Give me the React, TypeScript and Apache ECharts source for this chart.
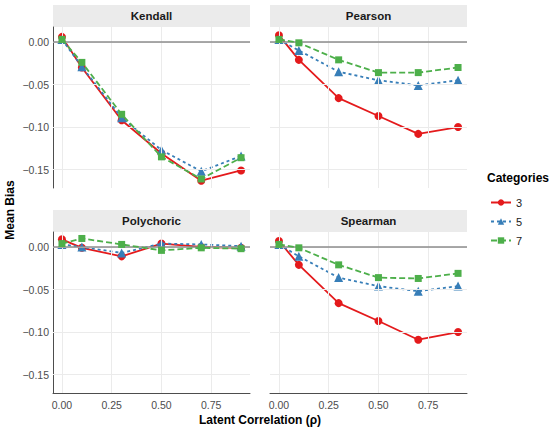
import React, { useEffect, useRef } from "react";
import * as echarts from "echarts";

const rho = [0, 0.1, 0.3, 0.5, 0.7, 0.9];
const categories = ["3", "5", "7"];
const methods = ["Kendall", "Pearson", "Polychoric", "Spearman"];

const kendall3 = [0.006, -0.030, -0.092, -0.131, -0.163, -0.151];
const kendall5 = [0.003, -0.029, -0.089, -0.127, -0.152, -0.134];
const kendall7 = [0.003, -0.024, -0.085, -0.135, -0.161, -0.136];
const pearson3 = [0.008, -0.021, -0.066, -0.087, -0.108, -0.100];
const pearson5 = [0.003, -0.010, -0.035, -0.045, -0.051, -0.045];
const pearson7 = [0.003, -0.001, -0.021, -0.036, -0.036, -0.030];
const poly3 = [0.009, -0.001, -0.011, 0.004, 0.000, -0.001];
const poly5 = [0.003, 0.000, -0.007, 0.004, 0.003, 0.001];
const poly7 = [0.004, 0.010, 0.003, -0.004, -0.001, -0.002];
const spear3 = [0.007, -0.021, -0.066, -0.087, -0.109, -0.100];
const spear5 = [0.003, -0.011, -0.036, -0.046, -0.052, -0.046];
const spear7 = [0.003, -0.001, -0.021, -0.036, -0.037, -0.031];

const yTicks = [-0.15, -0.1, -0.05, 0];
const xTicks = [0, 0.25, 0.5, 0.75];

const FONT = "Liberation Sans";
const colors = ["#E41A1C", "#377EB8", "#4DAF4A"];
const symbols = ["circle", "triangle", "rect"];
const symbolSizes = [8, 9, 7];
const dashes: any[] = ["solid", [3, 3], [6, 3]];

const panelData = [
  [kendall3, kendall5, kendall7],
  [pearson3, pearson5, pearson7],
  [poly3, poly5, poly7],
  [spear3, spear5, spear7],
];

const layout = [
  { left: 53, top: 27, showY: true, showX: false },
  { left: 270, top: 27, showY: false, showX: false },
  { left: 53, top: 232, showY: true, showX: true },
  { left: 270, top: 232, showY: false, showX: true },
];
const PW = 197;
const PH = 161;
const STRIP = 22;

const fmt = (v: number) => v.toFixed(2).replace("-", "\u2212");

export default function App() {
  const ref = useRef<HTMLDivElement>(null);
  useEffect(() => {
    document.body.style.margin = "0";
    const chart = echarts.init(ref.current!, undefined, { renderer: "svg" });
    const grids: any[] = [];
    const xAxes: any[] = [];
    const yAxes: any[] = [];
    const series: any[] = [];
    const graphics: any[] = [];

    layout.forEach((p, i) => {
      grids.push({ left: p.left, top: p.top, width: PW, height: PH, containLabel: false });
      xAxes.push({
        type: "value",
        gridIndex: i,
        min: -0.045,
        max: 0.945,
        splitLine: { show: false },
        axisTick: { show: false, customValues: xTicks },
        axisLine: { show: p.showX, onZero: false, lineStyle: { color: "#4D4D4D", width: 1 } },
        axisLabel: {
          show: p.showX,
          customValues: xTicks,
          formatter: fmt,
          fontFamily: FONT,
          fontSize: 10.5,
          color: "#4D4D4D",
          margin: 6,
        },
      });
      yAxes.push({
        type: "value",
        gridIndex: i,
        min: -0.1716,
        max: 0.0176,
        splitLine: { show: false },
        axisTick: { show: false, customValues: yTicks },
        axisLine: { show: p.showY, onZero: false, lineStyle: { color: "#4D4D4D", width: 1 } },
        axisLabel: {
          show: p.showY,
          customValues: yTicks,
          formatter: fmt,
          fontFamily: FONT,
          fontSize: 10.5,
          color: "#4D4D4D",
          margin: 4,
        },
      });
      // grid lines and zero reference line
      series.push({
        type: "line",
        xAxisIndex: i,
        yAxisIndex: i,
        data: [],
        z: 1,
        silent: true,
        markLine: {
          silent: true,
          symbol: "none",
          animation: false,
          label: { show: false },
          data: [
            ...yTicks.map((v) => ({ yAxis: v, lineStyle: { color: "#EBEBEB", width: 1, type: "solid" } })),
            ...xTicks.map((v) => ({ xAxis: v, lineStyle: { color: "#EBEBEB", width: 1, type: "solid" } })),
            { yAxis: 0, lineStyle: { color: "#8C8C8C", width: 1.5, type: "solid" } },
          ],
        },
      });
      panelData[i].forEach((vals, k) => {
        series.push({
          type: "line",
          name: categories[k],
          xAxisIndex: i,
          yAxisIndex: i,
          z: 3 + k,
          data: rho.map((x, j) => [x, vals[j]]),
          symbol: symbols[k],
          symbolSize: symbolSizes[k],
          showAllSymbol: true,
          itemStyle: { color: colors[k] },
          lineStyle: { color: colors[k], width: 1.8, type: dashes[k] },
        });
      });
      graphics.push({
        type: "rect",
        shape: { x: p.left, y: p.top - STRIP, width: PW, height: STRIP },
        style: { fill: "#EBEBEB" },
        silent: true,
      });
      graphics.push({
        type: "text",
        x: p.left + PW / 2,
        y: p.top - STRIP / 2,
        style: {
          text: methods[i],
          fontFamily: FONT,
          fontSize: 11.5,
          fontWeight: "bold",
          fill: "#1A1A1A",
          align: "center",
          verticalAlign: "middle",
        },
      });
    });

    graphics.push({
      type: "text",
      x: 10,
      y: 210,
      rotation: Math.PI / 2,
      style: {
        text: "Mean Bias",
        fontFamily: FONT,
        fontSize: 12,
        fontWeight: "bold",
        fill: "#000",
        align: "center",
        verticalAlign: "middle",
      },
    });
    graphics.push({
      type: "text",
      x: 260,
      y: 420,
      style: {
        text: "Latent Correlation (\u03C1)",
        fontFamily: FONT,
        fontSize: 12,
        fontWeight: "bold",
        fill: "#000",
        align: "center",
        verticalAlign: "middle",
      },
    });
    graphics.push({
      type: "text",
      x: 487,
      y: 178,
      style: {
        text: "Categories",
        fontFamily: FONT,
        fontSize: 12,
        fontWeight: "bold",
        fill: "#000",
        align: "left",
        verticalAlign: "middle",
      },
    });

    chart.setOption({
      animation: false,
      backgroundColor: "#FFFFFF",
      grid: grids,
      xAxis: xAxes,
      yAxis: yAxes,
      series,
      graphic: graphics,
      legend: {
        data: categories,
        orient: "vertical",
        left: 485,
        top: 192,
        itemWidth: 20,
        itemHeight: 8,
        itemGap: 8,
        selectedMode: false,
        textStyle: { fontFamily: FONT, fontSize: 11, color: "#1A1A1A" },
      },
    });
    return () => chart.dispose();
  }, []);
  return <div ref={ref} style={{ width: 550, height: 432 }} />;
}
